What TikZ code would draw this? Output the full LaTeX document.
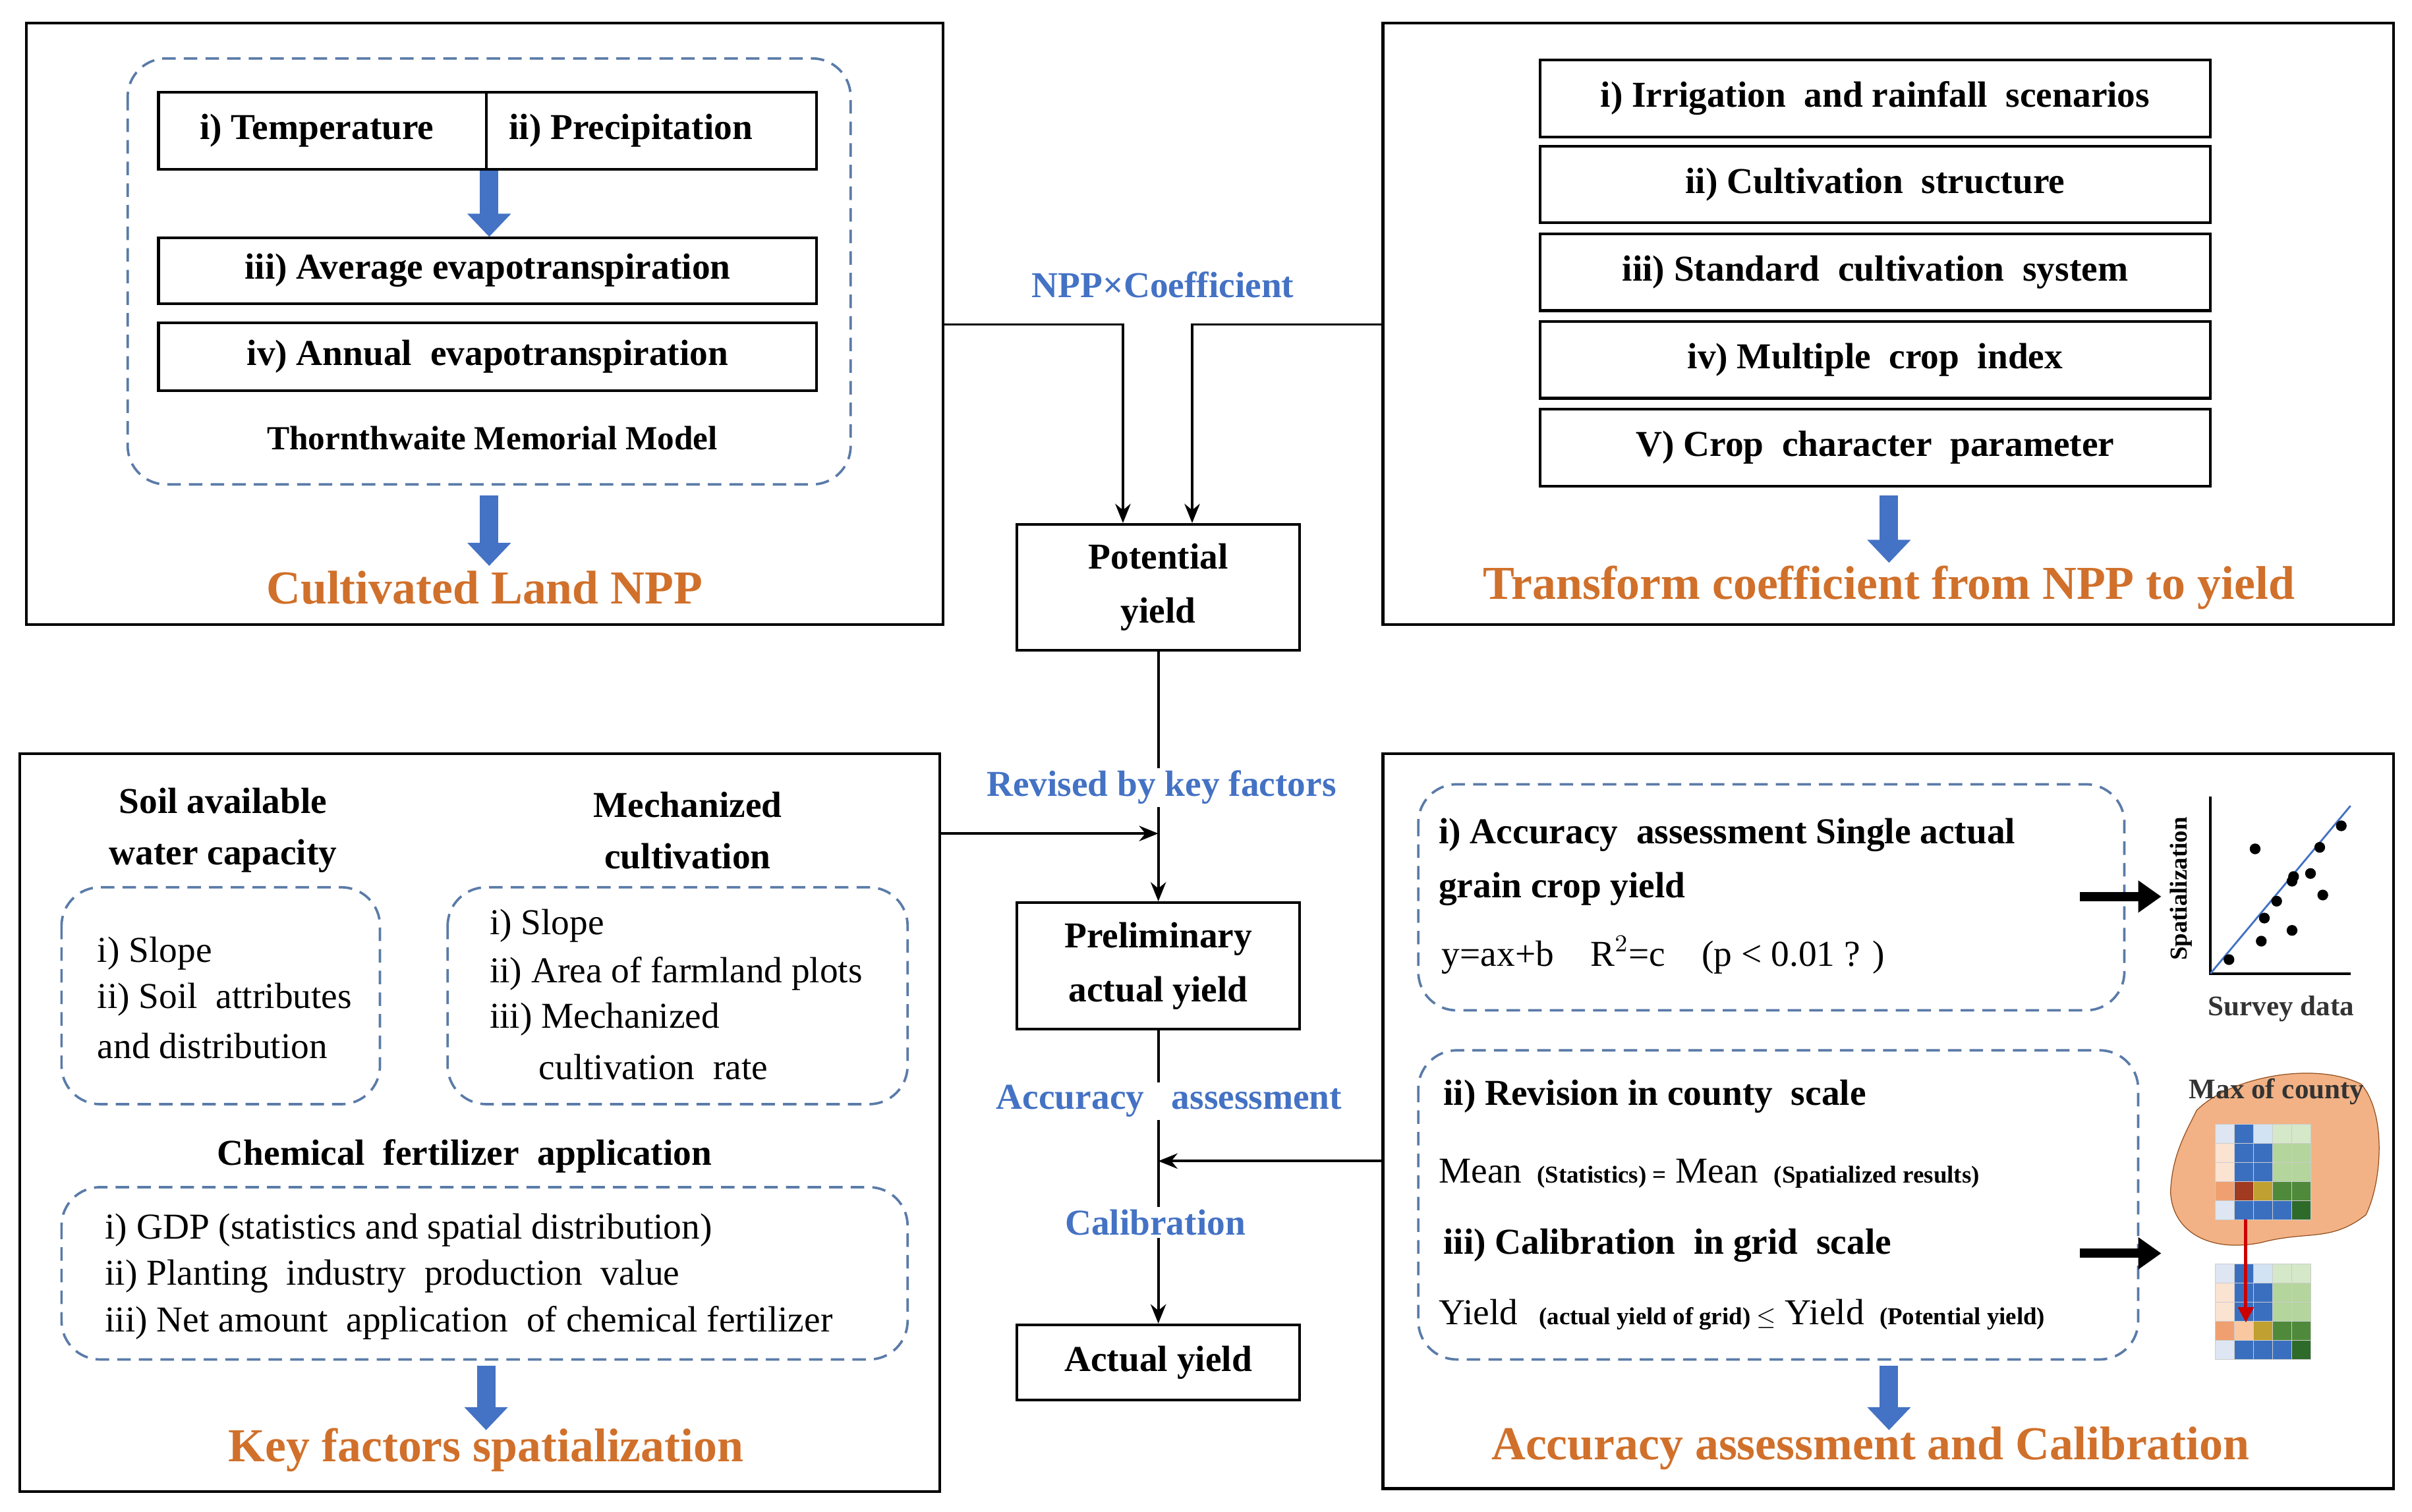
\documentclass[tikz,border=0pt]{standalone}
\usepackage{fontspec}
\setmainfont{Liberation Serif}
\usetikzlibrary{arrows.meta}
\definecolor{bl}{HTML}{4472C4}
\definecolor{og}{HTML}{D0702B}
\definecolor{dsh}{HTML}{5A7BA8}
\definecolor{c1}{HTML}{DDE6F2}\definecolor{c2}{HTML}{3A6FC0}\definecolor{c3}{HTML}{D2E3F3}
\definecolor{c4}{HTML}{D5E8C8}\definecolor{c5}{HTML}{FBE3D2}\definecolor{c6}{HTML}{B4D59C}
\definecolor{c7}{HTML}{F0A070}\definecolor{c8}{HTML}{A03A20}\definecolor{c9}{HTML}{C0A030}
\definecolor{c10}{HTML}{4E8A3A}\definecolor{c11}{HTML}{2E6A2A}\definecolor{c12}{HTML}{FAC8A0}
\definecolor{blob}{HTML}{F2B285}
\tikzset{
 frame/.style={draw, line width=1pt},
 box/.style={draw, line width=1pt, font=\fontsize{13.5}{16}\selectfont\bfseries, inner sep=0pt},
 dbox/.style={draw=dsh, dashed, dash pattern=on 5pt off 3pt, line width=0.9pt, rounded corners=0.5cm},
 bt/.style={font=\fontsize{13.5}{16}\selectfont\bfseries, align=center},
 rt/.style={font=\fontsize{13.5}{16}\selectfont, anchor=west, inner sep=0pt},
 rb/.style={rt, font=\fontsize{13.5}{16}\selectfont\bfseries},
 ttl/.style={font=\fontsize{17.5}{20}\selectfont\bfseries, text=og},
 lbl/.style={font=\fontsize{13.5}{16}\selectfont\bfseries, text=bl, fill=white, inner sep=1pt},
 barr/.style={draw=bl, line width=0.24cm, -{Triangle[width=0.55cm,length=0.3cm]}},
 karr/.style={draw=black, line width=0.12cm, -{Triangle[width=0.4cm,length=0.3cm]}},
 con/.style={draw, line width=0.9pt, -{Stealth[length=0.25cm,width=0.2cm]}},
}
\begin{document}
\begin{tikzpicture}[x=0.02cm,y=-0.02cm]
\useasboundingbox (0,0) rectangle (1568,983);
% ---------- TL
\draw[frame] (17,15) rectangle (613,406);
\draw[dbox] (83,38) rectangle (553,315);
\node[box, minimum width=8.56cm, minimum height=1cm] (tp) at (317,85) {};
\draw[line width=1pt] (316,60) -- (316,110);
\node[bt] (tt) at (206,85) {i) Temperature};
\node[bt] (pp) at (410,85) {ii) Precipitation};
\node[box, minimum width=8.56cm, minimum height=0.86cm] (ae) at (317,176) {iii) Average evapotranspiration};
\node[box, minimum width=8.56cm, minimum height=0.88cm] (an) at (317,232) {iv) Annual\ \ evapotranspiration};
\node[bt, font=\fontsize{12.5}{15}\selectfont\bfseries] (tm) at (320,285) {Thornthwaite Memorial Model};
\coordinate (a1s) at (318,111); \coordinate (a1e) at (318,154);
\draw[barr] (a1s) -- (a1e);
\coordinate (a2s) at (318,322); \coordinate (a2e) at (318,368);
\draw[barr] (a2s) -- (a2e);
\node[ttl] (t1) at (315,382) {Cultivated Land NPP};
% ---------- TR
\draw[frame] (899,15) rectangle (1556,406);
\foreach \y/\t/\n in {64/{i) Irrigation\ \ and rainfall\ \ scenarios}/r1,120/{ii) Cultivation\ \ structure}/r2,177/{iii) Standard\ \ cultivation\ \ system}/r3,234/{iv) Multiple\ \ crop\ \ index}/r4,291/{V) Crop\ \ character\ \ parameter}/r5}
  \node[box, minimum width=8.72cm, minimum height=1cm] (\n) at (1219,\y) {\t};
\coordinate (a3s) at (1228,322); \coordinate (a3e) at (1228,366);
\draw[barr] (a3s) -- (a3e);
\node[ttl] (t2) at (1228,382) {Transform coefficient from NPP to yield};
% ---------- centre
\node[box, minimum width=3.68cm, minimum height=1.64cm, align=center] (py) at (753,382) {Potential\\[4pt]yield};
\node[box, minimum width=3.68cm, minimum height=1.64cm, align=center] (pa) at (753,628) {Preliminary\\[4pt]actual yield};
\node[box, minimum width=3.68cm, minimum height=0.98cm] (ay) at (753,886) {Actual yield};
\coordinate (j1) at (730,211); \coordinate (j2) at (775,211);
\draw[con] (613,211) -- (j1) -- (py.north -| j1);
\draw[con] (899,211) -- (j2) -- (py.north -| j2);
\node[lbl, fill=none] (l1) at (756,185) {NPP×Coefficient};
\draw[con] (py) -- (pa);
\node[lbl] (l2) at (755,512) {Revised by key factors};
\coordinate (j3) at (753,542);
\draw[con] (611,542) -- (j3);
\draw[con] (pa) -- (ay);
\coordinate (j4) at (753,755);
\draw[con] (899,755) -- (j4);
\node[lbl] (l3) at (760,716) {Accuracy\ \ \ assessment};
\node[lbl] (l4) at (751,795) {Calibration};
% ---------- BL
\draw[frame] (13,490) rectangle (611,970);
\node[bt] (sw) at (145,540) {Soil available\\[3pt]water capacity};
\draw[dbox] (40,577) rectangle (247,718);
\node[rt] at (63,620) {i) Slope};
\node[rt] at (63,650) {ii) Soil\ \ attributes};
\node[rt] at (63,680) {and distribution};
\node[bt] (mc) at (447,540) {Mechanized\\[3pt]cultivation};
\draw[dbox] (291,577) rectangle (590,718);
\node[rt] at (318,602) {i) Slope};
\node[rt] at (318,633) {ii) Area of farmland plots};
\node[rt] at (318,663) {iii) Mechanized};
\node[rt] at (350,694) {cultivation\ \ rate};
\node[bt] (cf) at (302,752) {Chemical\ \ fertilizer\ \ application};
\draw[dbox] (40,772) rectangle (590,884);
\node[rt] at (68,800) {i) GDP (statistics and spatial distribution)};
\node[rt] at (68,830) {ii) Planting\ \ industry\ \ production\ \ value};
\node[rt] at (68,860) {iii) Net amount\ \ application\ \ of chemical fertilizer};
\coordinate (a4s) at (316,888); \coordinate (a4e) at (316,930);
\draw[barr] (a4s) -- (a4e);
\node[ttl] (t3) at (316,943) {Key factors spatialization};
% ---------- BR
\draw[frame] (899,490) rectangle (1556,968);
\draw[dbox] (922,510) rectangle (1381,657);
\node[rb] at (935,543) {i) Accuracy\ \ assessment Single actual};
\node[rb] at (935,578) {grain crop yield};
\node[rt] at (937,621) {y=ax+b\ \ \ \ R$^2$=c\ \ \ \ (p < 0.01 ? )};
\coordinate (k1s) at (1352,583); \coordinate (k1e) at (1405,583);
\draw[karr] (k1s) -- (k1e);
\coordinate (ox) at (1437,633);
\draw[line width=1pt] (1437,518) -- (ox) -- (1528,633);
\draw[bl, line width=0.7pt] (ox) -- (1528,524);
\foreach \p in {(1449,624),(1470,612),(1466,552),(1480,586),(1490,573),(1490,605),(1472,597),(1508,551),(1510,582),(1522,537),(1502,568),(1491,570)}
  \fill \p circle (3.5);
\node[rotate=90, font=\fontsize{9}{10}\selectfont\bfseries] (spz) at (1418,578) {Spatialization};
\node[font=\fontsize{10.5}{12}\selectfont\bfseries, text=black!80] (sd) at (1483,656) {Survey data};
\draw[dbox] (922,683) rectangle (1390,884);
\node[rb] at (938,713) {ii) Revision in county\ \ scale};
\node[rt] at (935,763) {Mean {\fontsize{9}{10}\selectfont\bfseries\ (Statistics) =} Mean {\fontsize{9}{10}\selectfont\bfseries\ (Spatialized results)}};
\node[rb] at (938,810) {iii) Calibration\ \ in grid\ \ scale};
\node[rt] at (935,855) {Yield {\fontsize{9}{10}\selectfont\bfseries\ \ (actual yield of grid) $\leq$} Yield {\fontsize{9}{10}\selectfont\bfseries\ (Potential yield)}};
\coordinate (k2s) at (1352,815); \coordinate (k2e) at (1405,815);
\draw[karr] (k2s) -- (k2e);
\fill[blob, draw=og!70!black, line width=0.3pt] (1428,722) .. controls (1450,700) and (1505,690) .. (1535,705) .. controls (1552,725) and (1548,770) .. (1538,790) .. controls (1515,808) and (1500,800) .. (1470,808) .. controls (1435,815) and (1412,800) .. (1411,775) .. controls (1412,752) and (1420,738) .. (1428,722);
\node[font=\fontsize{10.5}{12}\selectfont\bfseries, text=black!80] (mx) at (1480,710) {Max of county};
\foreach \gy/\rfour in {731/c8,822/c12}{
  \foreach \r/\cols in {0/{c1,c2,c3,c4,c4},1/{c5,c2,c2,c6,c6},2/{c5,c2,c2,c6,c6},3/{c7,\rfour,c9,c10,c10},4/{c1,c2,c2,c2,c11}}{
    \foreach \c [count=\i from 0] in \cols
      \fill[\c, draw=gray!40, line width=0.2pt] (1440+12.4*\i,\gy+12.4*\r) rectangle ++(12.4,12.4);
  }
}
\coordinate (rs) at (1460,793); \coordinate (re) at (1460,860);
\draw[red!80!black, line width=1.2pt, -{Triangle[width=0.2cm,length=0.2cm]}] (rs) -- (re);
\coordinate (a5s) at (1228,888); \coordinate (a5e) at (1228,930);
\draw[barr] (a5s) -- (a5e);
\node[ttl] (t4) at (1216,942) {Accuracy assessment and Calibration};
\end{tikzpicture}
\end{document}
